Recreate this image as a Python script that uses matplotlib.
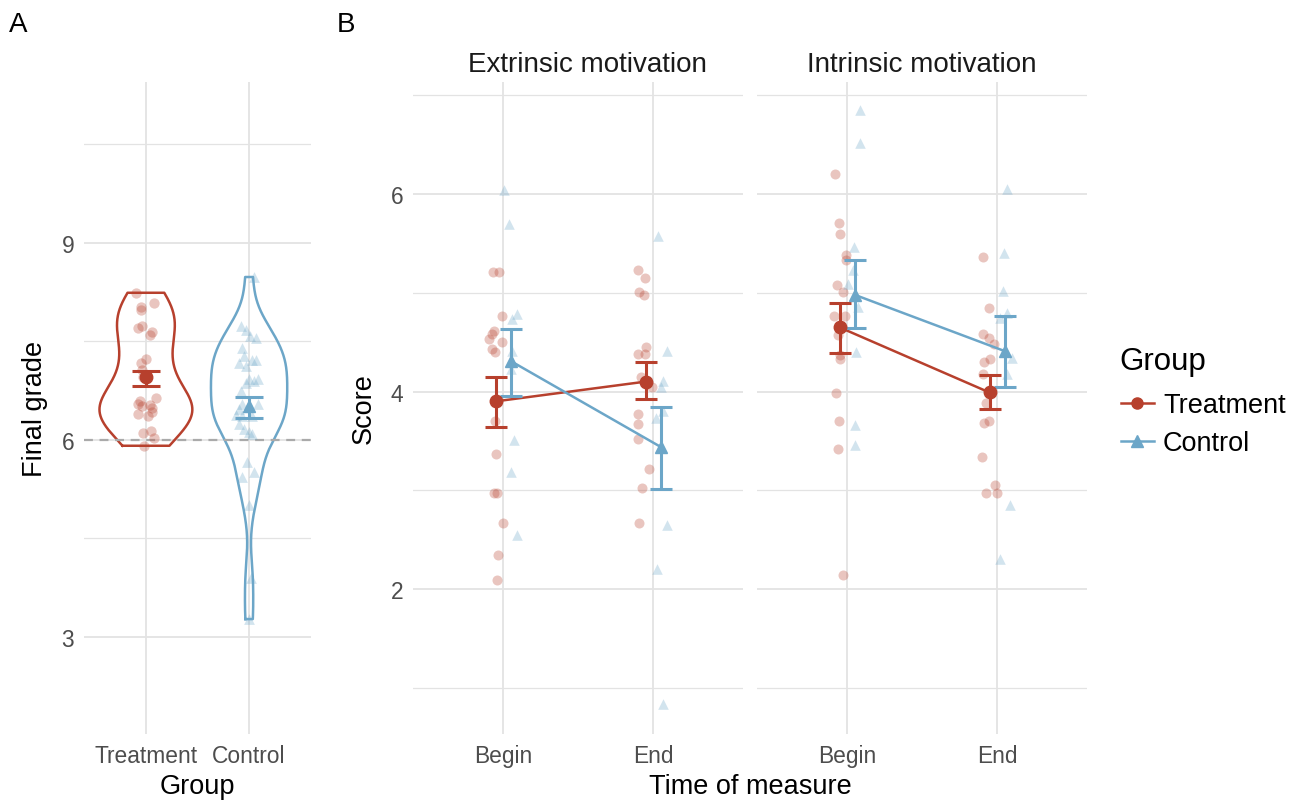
import numpy as np
import matplotlib
matplotlib.use("Agg")
import matplotlib.pyplot as plt
from matplotlib.lines import Line2D

plt.rcParams['font.family'] = ['Liberation Sans', 'DejaVu Sans']

RED = "#B7402D"
BLUE = "#6CA6C8"
GRID = "#E3E3E3"
TICKC = "#4D4D4D"

# ---------------- Panel A data ----------------
groups_a = ["Treatment", "Control"]
grade_treat = [8.24, 8.03, 7.98, 8.09, 7.70, 7.73, 7.60, 7.64, 7.17, 7.23, 7.07, 6.95,
               6.59, 6.63, 6.54, 6.52, 6.53, 6.49, 6.39, 6.37, 6.43, 6.11, 6.13, 6.03, 5.91]
jit_treat = [-0.092, -0.049, -0.049, 0.078, -0.075, -0.036, 0.039, 0.056, -0.049, -0.003,
             -0.036, -0.033, -0.059, 0.098, -0.075, -0.042, 0.039, 0.056, -0.075, 0.023,
             0.056, -0.033, 0.046, 0.078, -0.016]
grade_ctrl = [8.48, 7.73, 7.68, 7.58, 7.55, 7.40, 7.27, 7.22, 7.21, 7.17, 7.12, 6.92, 6.90,
              6.92, 6.87, 6.74, 6.54, 6.54, 6.47, 6.37, 6.38, 6.37, 6.24, 6.17, 6.12, 6.09,
              5.66, 5.44, 5.51, 5.01, 3.90, 3.27]
jit_ctrl = [0.049, -0.082, -0.033, 0.007, 0.065, -0.072, -0.049, 0.033, 0.065, -0.098,
            -0.033, 0.0, 0.049, 0.082, -0.033, -0.082, -0.072, 0.082, -0.098, -0.065,
            -0.131, 0.033, -0.098, -0.049, 0.0, 0.033, -0.016, -0.065, 0.049, 0.0, 0.016, 0.0]
grade_mean = [6.955, 6.52]
grade_lo = [6.827, 6.33]
grade_hi = [7.055, 6.66]
pass_line = 6

# ---------------- Panel B data ----------------
facets = ["Extrinsic motivation", "Intrinsic motivation"]
times = ["Begin", "End"]

# score points: [facet][time] for each group
score_treat = [
    [[5.21, 5.21, 4.76, 4.61, 4.58, 4.53, 4.50, 4.43, 4.40, 3.70, 3.37, 2.97, 2.97, 2.67, 2.34, 2.09],
     [5.23, 5.15, 5.01, 4.98, 4.45, 4.38, 4.38, 4.15, 4.05, 3.77, 3.67, 3.52, 3.22, 3.02, 2.67]],
    [[6.20, 5.71, 5.59, 5.38, 5.33, 5.08, 5.01, 4.76, 4.76, 4.57, 4.37, 4.33, 3.98, 3.70, 3.42, 2.14],
     [5.36, 4.85, 4.58, 4.54, 4.48, 4.30, 4.33, 4.18, 3.88, 3.68, 3.70, 3.34, 3.05, 2.97, 2.97]],
]
jitter_treat = [
    [[-0.064, -0.025, -0.007, -0.062, -0.075, -0.091, -0.009, -0.075, -0.053, -0.051, -0.046,
      -0.058, -0.042, -0.002, -0.031, -0.042],
     [-0.097, -0.053, -0.093, -0.058, -0.046, -0.097, -0.053, -0.081, -0.009, -0.097, -0.101,
      -0.097, -0.025, -0.071, -0.091]],
    [[-0.078, -0.051, -0.049, -0.005, -0.005, -0.067, -0.028, -0.089, -0.011, -0.060, -0.045,
      -0.045, -0.074, -0.056, -0.060, -0.025],
     [-0.093, -0.055, -0.093, -0.053, -0.020, -0.089, -0.044, -0.093, -0.071, -0.087, -0.053,
      -0.100, -0.015, -0.075, 0.000]],
]
score_ctrl = [
    [[6.04, 5.70, 4.78, 4.73, 4.41, 4.23, 3.51, 3.18, 2.55],
     [5.57, 4.41, 4.11, 4.05, 3.80, 3.73, 2.65, 2.20, 0.84]],
    [[6.85, 6.52, 5.46, 5.23, 5.09, 4.86, 4.40, 3.66, 3.46],
     [6.05, 5.40, 5.02, 4.80, 4.74, 4.34, 4.18, 2.85, 2.30]],
]
jitter_ctrl = [
    [[0.004, 0.042, 0.093, 0.060, 0.060, 0.053, 0.075, 0.053, 0.091],
     [0.035, 0.095, 0.068, 0.053, 0.068, 0.020, 0.091, 0.024, 0.068]],
    [[0.089, 0.089, 0.044, 0.040, 0.004, 0.073, 0.062, 0.055, 0.051],
     [0.069, 0.047, 0.040, 0.069, 0.018, 0.102, 0.067, 0.089, 0.018]],
]
# means and interval bounds: [facet][time]
mean_treat = [[3.90, 4.10], [4.65, 3.99]]
lo_treat = [[3.64, 3.92], [4.39, 3.82]]
hi_treat = [[4.15, 4.30], [4.90, 4.17]]
mean_ctrl = [[4.31, 3.44], [4.98, 4.41]]
lo_ctrl = [[3.95, 3.01], [4.64, 4.05]]
hi_ctrl = [[4.63, 3.84], [5.33, 4.76]]
dodge = 0.05

W, H = 1300, 803
fig = plt.figure(figsize=(W / 100, H / 100), dpi=100)


def ax_px(x0, y0, x1, y1):
    return fig.add_axes([x0 / W, 1 - y1 / H, (x1 - x0) / W, (y1 - y0) / H])


def style(ax):
    for s in ax.spines.values():
        s.set_visible(False)
    ax.set_facecolor("white")
    ax.tick_params(length=0, labelsize=16.4, labelcolor=TICKC, pad=7)
    ax.set_axisbelow(True)


def kde(data, grid):
    d = np.asarray(data)
    n = len(d)
    sd = d.std(ddof=1)
    iqr = np.subtract(*np.percentile(d, [75, 25]))
    bw = 0.9 * min(sd, iqr / 1.34) * n ** (-0.2)
    z = (grid[:, None] - d[None, :]) / bw
    return np.exp(-0.5 * z ** 2).sum(axis=1) / (n * bw * np.sqrt(2 * np.pi))


# ---------------- Panel A ----------------
axA = ax_px(84, 83, 311, 735)
style(axA)
axA.set_xlim(0.4, 2.6)
axA.set_ylim(1.52, 11.45)
for v in [3, 6, 9]:
    axA.axhline(v, color=GRID, lw=1.3, zorder=0)
for v in [1.5, 4.5, 7.5, 10.5]:
    axA.axhline(v, color=GRID, lw=0.9, zorder=0)
for v in [1, 2]:
    axA.axvline(v, color=GRID, lw=1.3, zorder=0)
axA.set_xticks([1, 2])
axA.set_xticklabels(groups_a)
axA.set_yticks([3, 6, 9])
axA.set_yticklabels(["3", "6", "9"])

dens = []
for d in [grade_treat, grade_ctrl]:
    g = np.linspace(min(d), max(d), 512)
    dens.append((g, kde(d, g)))
dmax = max(k.max() for _, k in dens)
for i, ((g, k), col) in enumerate(zip(dens, [RED, BLUE])):
    hw = k / dmax * 0.45
    xs = np.concatenate([i + 1 - hw, (i + 1 + hw)[::-1], [i + 1 - hw[0]]])
    ys = np.concatenate([g, g[::-1], [g[0]]])
    axA.plot(xs, ys, color=col, lw=1.8, zorder=2, solid_joinstyle='round')

axA.axhline(pass_line, color="#AAAAAA", lw=1.6, ls=(0, (4, 3)), zorder=3)

axA.scatter(1 + np.array(jit_treat), grade_treat, s=55, marker='o', color=RED, alpha=0.3,
            linewidths=0, zorder=4)
axA.scatter(2 + np.array(jit_ctrl), grade_ctrl, s=60, marker='^', color=BLUE, alpha=0.3,
            linewidths=0, zorder=4)
for i, (col, mk) in enumerate(zip([RED, BLUE], ['o', '^'])):
    axA.errorbar(i + 1, grade_mean[i],
                 yerr=[[grade_mean[i] - grade_lo[i]], [grade_hi[i] - grade_mean[i]]],
                 fmt='none', ecolor=col, elinewidth=2.2, capsize=10, capthick=2.2, zorder=5)
    axA.plot(i + 1, grade_mean[i], marker=mk, ms=9, color=col, zorder=6, ls='none')
axA.set_ylabel("Final grade", fontsize=19.5, labelpad=10)
fig.text(197.5 / W, 1 - 787 / H, "Group", fontsize=19.5, ha='center', va='center')

# ---------------- Panel B ----------------
axes_b = [ax_px(413, 83, 743, 735), ax_px(757, 83, 1087, 735)]
title_x = [0.53, 0.5]
for fi, ax in enumerate(axes_b):
    style(ax)
    ax.set_xlim(0.4, 2.6)
    ax.set_ylim(0.532, 7.134)
    for v in [2, 4, 6]:
        ax.axhline(v, color=GRID, lw=1.3, zorder=0)
    for v in [1, 3, 5, 7]:
        ax.axhline(v, color=GRID, lw=0.9, zorder=0)
    for v in [1, 2]:
        ax.axvline(v, color=GRID, lw=1.3, zorder=0)
    ax.set_xticks([1, 2])
    ax.set_xticklabels(times)
    ax.set_yticks([2, 4, 6])
    if fi == 0:
        ax.set_yticklabels(["2", "4", "6"])
    else:
        ax.set_yticklabels([])
    ax.set_title(facets[fi], fontsize=20, pad=8, color="#1A1A1A", x=title_x[fi])

    for ti in range(2):
        ax.scatter(ti + 1 + np.array(jitter_treat[fi][ti]), score_treat[fi][ti], s=52,
                   marker='o', color=RED, alpha=0.3, linewidths=0, zorder=2)
        ax.scatter(ti + 1 + np.array(jitter_ctrl[fi][ti]), score_ctrl[fi][ti], s=58,
                   marker='^', color=BLUE, alpha=0.3, linewidths=0, zorder=2)

    xt = np.array([1, 2]) - dodge
    xc = np.array([1, 2]) + dodge
    for xx, m, lo, hi, col, mk in [(xt, mean_treat[fi], lo_treat[fi], hi_treat[fi], RED, 'o'),
                                   (xc, mean_ctrl[fi], lo_ctrl[fi], hi_ctrl[fi], BLUE, '^')]:
        m = np.array(m)
        ax.plot(xx, m, color=col, lw=1.8, zorder=3)
        ax.errorbar(xx, m, yerr=[m - np.array(lo), np.array(hi) - m], fmt='none', ecolor=col,
                    elinewidth=2.2, capsize=8, capthick=2.2, zorder=4)
        ax.plot(xx, m, marker=mk, ms=9, color=col, ls='none', zorder=5)

axes_b[0].set_ylabel("Score", fontsize=19.5, labelpad=10)
fig.text(750 / W, 1 - 787 / H, "Time of measure", fontsize=19.5, ha='center', va='center')

# panel tags
fig.text(18 / W, 1 - 25 / H, "A", fontsize=20, ha='center', va='center')
fig.text(346 / W, 1 - 25 / H, "B", fontsize=20, ha='center', va='center')

# legend
fig.text(1119 / W, 1 - 362 / H, "Group", fontsize=22.5, ha='left', va='center')
handles = [Line2D([], [], color=RED, lw=1.8, marker='o', ms=8),
           Line2D([], [], color=BLUE, lw=1.8, marker='^', ms=8)]
leg = fig.legend(handles, ["Treatment", "Control"], loc='upper left',
                 bbox_to_anchor=(1121 / W, 1 - 393 / H), frameon=False, fontsize=19.5,
                 handlelength=1.2, handletextpad=0.35,
                 labelspacing=0.46, borderaxespad=0, borderpad=0)

fig.savefig("out.png", dpi=100, facecolor="white")
